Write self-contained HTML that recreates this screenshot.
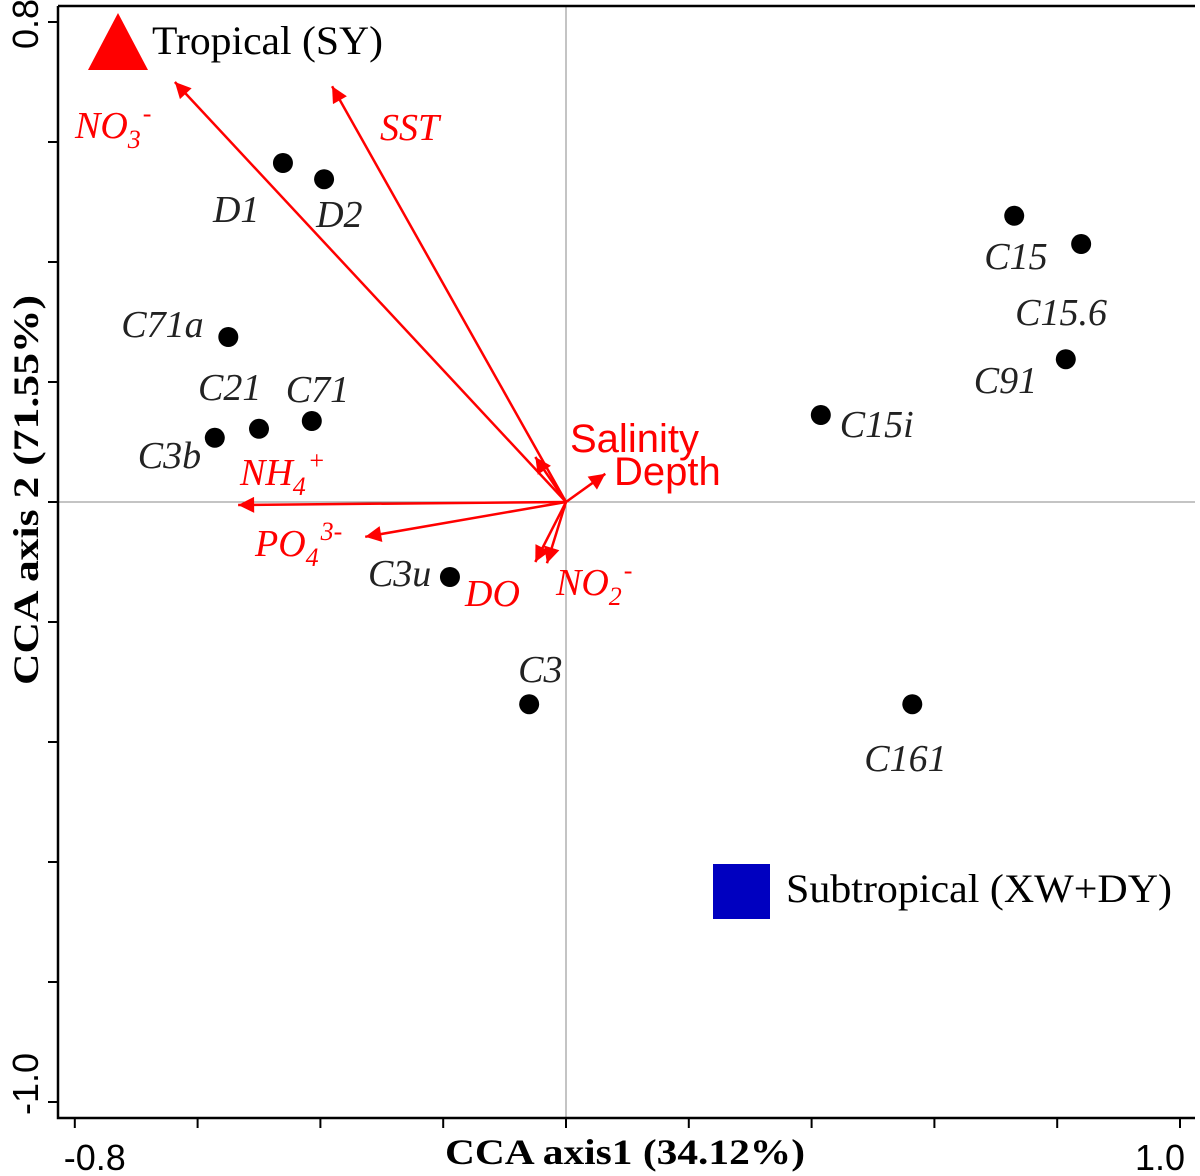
<!DOCTYPE html>
<html><head><meta charset="utf-8"><style>
html,body{margin:0;padding:0;background:#fff;}
svg{display:block;}
.it{font-family:"Liberation Serif",serif;font-style:italic;font-size:38px;}
</style></head><body>
<svg id="chart" width="1200" height="1176" viewBox="0 0 1200 1176" xmlns="http://www.w3.org/2000/svg"></svg>
<script>
const xTicks=[-0.8,-0.6,-0.4,-0.2,0,0.2,0.4,0.6,0.8,1.0];
const yTicks=[0.8,0.6,0.4,0.2,0,-0.2,-0.4,-0.6,-0.8,-1.0];
const siteNames=["D1","D2","C71a","C21","C71","C3b","C3u","C3","C15i","C15","C15.6","C91","C161"];
const siteX=[-0.461,-0.394,-0.550,-0.500,-0.414,-0.572,-0.189,-0.060,0.415,0.730,0.839,0.814,0.564];
const siteY=[0.565,0.538,0.275,0.122,0.135,0.107,-0.125,-0.337,0.145,0.477,0.430,0.238,-0.337];
const envNames=["NO3","SST","NH4","PO4","Salinity","Depth","DO","NO2"];
const envX=[-0.637,-0.381,-0.534,-0.327,-0.050,0.064,-0.050,-0.031];
const envY=[0.700,0.693,-0.005,-0.058,0.075,0.047,-0.100,-0.102];

const svg=document.getElementById('chart');
const NS='http://www.w3.org/2000/svg';
const X=v=>566+v*614;
const Y=v=>502-v*600;
function mk(tag,attrs,parent){const e=document.createElementNS(NS,tag);for(const k in attrs)e.setAttribute(k,attrs[k]);(parent||svg).appendChild(e);return e;}

const defs=mk('defs',{});
const mrk=mk('marker',{id:'ah',viewBox:'0 0 10 10',refX:'10',refY:'5',markerWidth:'22',markerHeight:'16',orient:'auto',markerUnits:'userSpaceOnUse'},defs);
mk('path',{d:'M0,0 L10,5 L0,10 z',fill:'#f00'},mrk);

let l=mk('line',{x1:58,y1:Y(0),x2:1195,y2:Y(0),stroke:'#888','stroke-width':1});


l=mk('line',{x1:X(0),y1:6,x2:X(0),y2:1118,stroke:'#888','stroke-width':1});



let fr=mk('path',{d:'M58,6 L1195,6 M58,6 L58,1118 L1195,1118',stroke:'#000','stroke-width':2.5,fill:'none'});



xTicks.forEach(v=>{
  const t=mk('line',{x1:X(v),y1:1118,x2:X(v),y2:1128,stroke:'#000','stroke-width':2});
  
  
});
yTicks.forEach(v=>{
  const t=mk('line',{x1:48,y1:Y(v),x2:58,y2:Y(v),stroke:'#000','stroke-width':2});
  
  
});
[[xTicks[0],'-0.8',20],[xTicks[9],'1.0',-20]].forEach(([v,s,dx])=>{
  const t=mk('text',{x:X(v)+dx,y:1170,'text-anchor':'middle','font-family':'Liberation Sans,sans-serif','font-size':36});
  t.textContent=s;
  
  
});
[[yTicks[0],'0.8',2],[yTicks[9],'-1.0',-18]].forEach(([v,s,dy])=>{
  const t=mk('text',{x:0,y:0,'text-anchor':'middle','font-family':'Liberation Sans,sans-serif','font-size':36,transform:`translate(38,${Y(v)+dy}) rotate(-90)`});
  t.textContent=s;
  
  
});
let ax=mk('text',{x:625,y:1164,'text-anchor':'middle','font-family':'Liberation Serif,serif','font-weight':'bold','font-size':36,textLength:360,lengthAdjust:'spacingAndGlyphs'});
ax.textContent='CCA axis1 (34.12%)';


ax=mk('text',{x:0,y:0,'text-anchor':'middle','font-family':'Liberation Serif,serif','font-weight':'bold','font-size':36,textLength:390,lengthAdjust:'spacingAndGlyphs',transform:'translate(38,490) rotate(-90)'});
ax.textContent='CCA axis 2 (71.55%)';



const envLabels={
 NO3:{x:75,y:138,html:['NO','3','-']},
 SST:{x:380,y:140,txt:'SST'},
 NH4:{x:240,y:485,html:['NH','4','+']},
 PO4:{x:255,y:556,html:['PO','4','3-']},
 Salinity:{x:570,y:452,txt:'Salinity',sans:true},
 Depth:{x:614,y:485,txt:'Depth',sans:true},
 DO:{x:465,y:606,txt:'DO'},
 NO2:{x:556,y:595,html:['NO','2','-']}
};
envNames.forEach((n,i)=>{
  const a=mk('line',{x1:X(0),y1:Y(0),x2:X(envX[i]),y2:Y(envY[i]),stroke:'#f00','stroke-width':2.5,'marker-end':'url(#ah)'});
  
  
  const L=envLabels[n];
  const t=mk('text',{x:L.x,y:L.y,fill:'#f00'});
  if(L.sans){t.setAttribute('font-family','Liberation Sans,sans-serif');t.setAttribute('font-size','40');}
  else t.setAttribute('class','it');
  if(L.txt) t.textContent=L.txt;
  else{
    const s0=mk('tspan',{},t);s0.textContent=L.html[0];
    const s1=mk('tspan',{dy:10,'font-size':26},t);s1.textContent=L.html[1];
    const s2=mk('tspan',{dy:-26,'font-size':26,dx:2},t);s2.textContent=L.html[2];
  }
  
  
});

const off={D1:[-70,59],D2:[-8,48],C71a:[-107,0],C21:[-61,-29],C71:[-26,-19],C3b:[-77,30],C3u:[-82,9],C3:[-11,-22],C15i:[19,22],C15:[-30,53],'C15.6':[-66,81],C91:[-92,34],C161:[-48,67]};
siteNames.forEach((n,i)=>{
  const c=mk('circle',{cx:X(siteX[i]),cy:Y(siteY[i]),r:10,fill:'#000'});
  
  
  const t=mk('text',{x:X(siteX[i])+off[n][0],y:Y(siteY[i])+off[n][1],class:'it',fill:'#222'});
  t.textContent=n;
  
  
});

let g=mk('g',{});


mk('polygon',{points:'88,70 148,70 118,13',fill:'#f00'},g);
let lt=mk('text',{x:152,y:54,'font-family':'Liberation Serif,serif','font-size':40,textLength:231,lengthAdjust:'spacingAndGlyphs'},g);lt.textContent='Tropical (SY)';
g=mk('g',{});


mk('rect',{x:713,y:864,width:57,height:55,fill:'#0000c0'},g);
lt=mk('text',{x:786,y:902,'font-family':'Liberation Serif,serif','font-size':40,textLength:386,lengthAdjust:'spacingAndGlyphs'},g);lt.textContent='Subtropical (XW+DY)';
</script>
</body></html>
